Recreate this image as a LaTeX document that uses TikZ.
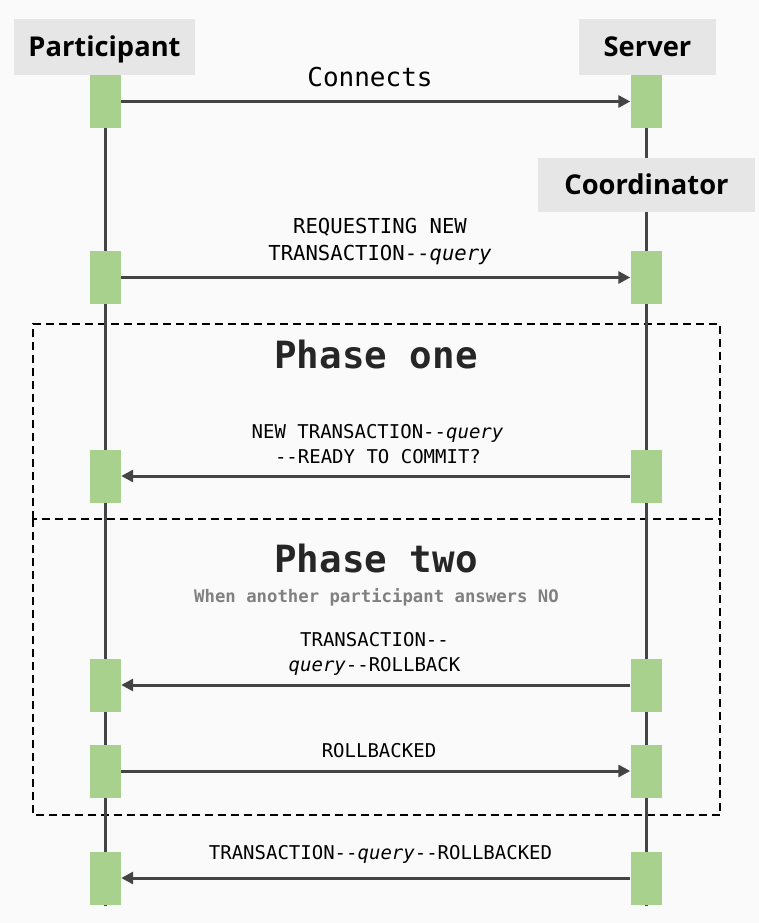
\documentclass[tikz,border=0pt]{standalone}
\usepackage{fontspec}
\setmainfont{Open Sans}
\setmonofont{DejaVu Sans Mono}
\usetikzlibrary{arrows.meta}
\definecolor{bgcol}{HTML}{FAFAFA}
\definecolor{hdcol}{HTML}{E6E6E6}
\definecolor{actcol}{HTML}{A9D18E}
\definecolor{lncol}{HTML}{444444}
\definecolor{subcol}{HTML}{808080}
\tikzset{
  header/.style={fill=hdcol, inner sep=0pt, text height=19.5pt, text depth=0pt, font=\fontsize{27.3}{32}\selectfont\bfseries},
  actbox/.style={fill=actcol, minimum width=31pt, minimum height=53pt, inner sep=0pt},
  lifeline/.style={draw=lncol, line width=3pt},
  msg/.style={draw=lncol, line width=3pt, -{Triangle[length=12pt,width=12pt]}, shorten >=0pt},
  lbl/.style={font=\ttfamily\fontsize{20.6}{27}\selectfont, anchor=base, inner sep=0pt},
  slbl/.style={font=\ttfamily\fontsize{19}{25}\selectfont, anchor=base, inner sep=0pt},
  phase/.style={font=\ttfamily\bfseries\fontsize{37.5}{40}\selectfont, anchor=base, inner sep=0pt, text=black!85},
  sub/.style={font=\ttfamily\bfseries\fontsize{17.3}{20}\selectfont, anchor=base, inner sep=0pt, text=subcol},
  phasebox/.style={draw=black, line width=2pt, dash pattern=on 8pt off 5pt}
}
\begin{document}
\begin{tikzpicture}[x=1pt,y=-1pt]
\fill[bgcol] (0,0) rectangle (759,923);
\useasboundingbox (0,0) rectangle (759,923);

% dashed phase boxes
\draw[phasebox] (32.5,519) -- (32.5,324) -- (720,324) -- (720,519);
\draw[phasebox] (32.5,519) rectangle (720,815);

% headers
\node[header, minimum width=181pt, minimum height=56pt] (pHead) at (104.5,47) {Participant};
\node[header, minimum width=137pt, minimum height=56pt] (sHead) at (647.5,47) {Server};
\node[header, minimum width=217pt, minimum height=54pt] (cHead) at (646.5,185) {Coordinator};

% lifeline ends
\coordinate (pEnd) at (105.5,906);
\coordinate (sEnd) at (646,906);
\coordinate (pTop) at (105.5,75);
\coordinate (sTop) at (646,75);

\draw[lifeline] (pTop) -- (pEnd);
\draw[lifeline] (sTop) -- (sTop |- cHead.north);
\draw[lifeline] (sTop |- cHead.south) -- (sEnd);

% activation boxes
\node[actbox] (p1) at (105.5,101.5) {};
\node[actbox] (s1) at (646,101.5) {};
\node[actbox] (p2) at (105.5,277.5) {};
\node[actbox] (s2) at (646,277.5) {};
\node[actbox] (p3) at (105.5,476) {};
\node[actbox] (s3) at (646,476) {};
\node[actbox] (p4) at (105.5,685) {};
\node[actbox] (s4) at (646,685) {};
\node[actbox] (p5) at (105.5,771) {};
\node[actbox] (s5) at (646,771) {};
\node[actbox] (p6) at (105.5,878) {};
\node[actbox] (s6) at (646,878) {};

% messages
\draw[msg] (p1.east) -- (s1.west);
\draw[msg] (p2.east) -- (s2.west);
\draw[msg] (s3.west) -- (p3.east);
\draw[msg] (s4.west) -- (p4.east);
\draw[msg] (p5.east) -- (s5.west);
\draw[msg] (s6.west) -- (p6.east);

% labels
\node[lbl, font=\ttfamily\fontsize{26}{31}\selectfont] (l1) at (370,87) {Connects};
\node[lbl] (l2a) at (380,233) {REQUESTING NEW};
\node[lbl] (l2b) at (380,260) {TRANSACTION--\textit{query}};
\node[phase] (ph1) at (376,368) {Phase one};
\node[slbl] (l3a) at (377.5,438) {NEW TRANSACTION--\textit{query}};
\node[slbl] (l3b) at (378,463) {--READY TO COMMIT?};
\node[phase] (ph2) at (376,572) {Phase two};
\node[sub] (sb) at (376.5,602) {When another participant answers NO};
\node[slbl] (l4a) at (374.5,646) {TRANSACTION--};
\node[slbl] (l4b) at (374.5,671) {\textit{query}--ROLLBACK};
\node[slbl] (l5) at (379,757) {ROLLBACKED};
\node[slbl] (l6) at (380.5,859) {TRANSACTION--\textit{query}--ROLLBACKED};
\end{tikzpicture}
\end{document}
